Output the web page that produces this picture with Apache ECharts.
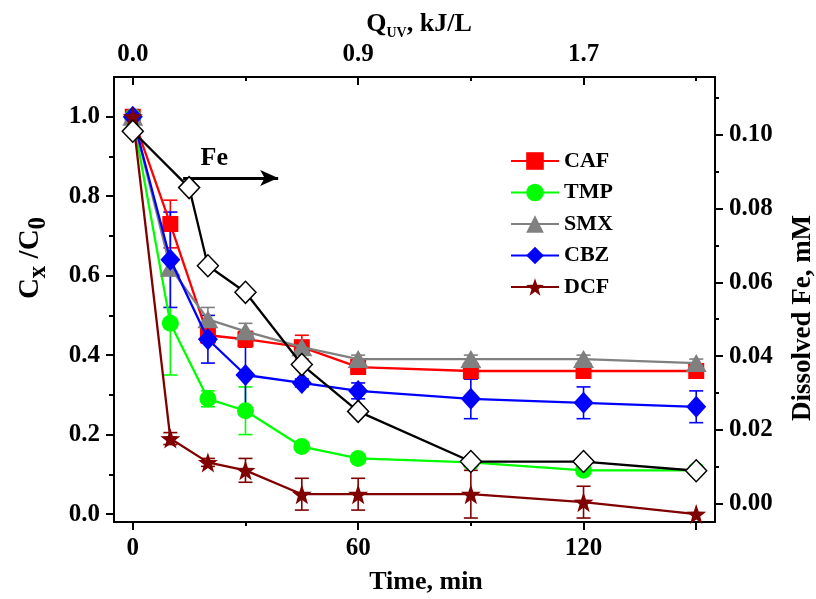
<!DOCTYPE html>
<html>
<head>
<meta charset="utf-8">
<script src="https://cdn.jsdelivr.net/npm/echarts@6/dist/echarts.min.js"></script>
<style>html,body{margin:0;padding:0;background:#fff}#c{width:816px;height:599px}</style>
</head>
<body>
<div id="c"></div>
<script>
// ---- data ----
const time = [0, 10, 20, 30, 45, 60, 90, 120, 150];
const CAF = [1.0, 0.73, 0.45, 0.44, 0.42, 0.37, 0.36, 0.36, 0.36];
const CAF_err = [0.01, 0.06, 0.02, 0.02, 0.03, 0.01, 0.02, 0.01, 0.01];
const TMP = [1.0, 0.48, 0.29, 0.26, 0.17, 0.14, 0.13, 0.11, 0.11];
const TMP_err = [0.01, 0.13, 0.02, 0.06, 0.01, 0.01, 0.01, 0.01, 0.01];
const SMX = [1.0, 0.62, 0.49, 0.46, 0.42, 0.39, 0.39, 0.39, 0.38];
const SMX_err = [0.01, 0.02, 0.03, 0.02, 0.01, 0.01, 0.01, 0.01, 0.01];
const CBZ = [1.0, 0.64, 0.44, 0.35, 0.33, 0.31, 0.29, 0.28, 0.27];
const CBZ_err = [0.01, 0.12, 0.06, 0.10, 0.01, 0.02, 0.05, 0.04, 0.04];
const DCF = [1.0, 0.19, 0.13, 0.11, 0.05, 0.05, 0.05, 0.03, 0.0];
const DCF_err = [0.01, 0.015, 0.01, 0.03, 0.04, 0.04, 0.06, 0.04, 0.0];
const feTime = [0, 15, 20, 30, 45, 60, 90, 120, 150];
const fe = [0.101, 0.0857, 0.0645, 0.0573, 0.0377, 0.025, 0.0114, 0.0114, 0.0089];

const timeTicks = [0, 60, 120];
const timeMajorTicks = [0, 60, 120, 150];
const timeMinorTicks = [30, 90];
const topMinorTicks = [30, 90, 150];
const qTickLabels = ['0.0', '0.9', '1.7'];
const leftTicks = [0, 0.2, 0.4, 0.6, 0.8, 1.0];
const leftMinor = [0.1, 0.3, 0.5, 0.7, 0.9];
const rightTicks = [0, 0.02, 0.04, 0.06, 0.08, 0.10];
const rightMinor = [0.01, 0.03, 0.05, 0.07, 0.09, 0.11];
// Fe annotation arrow (data coords, right axis)
const feArrowX = [13.4, 38.7];
const feArrowY = 0.0883;
const feLabelPos = [21.7, 0.0937];

// ---- styling ----
const FONT = 'Liberation Serif';
const lab = {color: '#000', fontFamily: FONT, fontWeight: 'bold', fontSize: 25};
const STAR = 'path://M50 0 L61.76 33.82 L97.55 34.55 L69.02 56.18 L79.39 90.45 L50 70 L20.61 90.45 L30.98 56.18 L2.45 34.55 L38.24 33.82 Z';

const compounds = [
  {name: 'CAF', v: CAF, e: CAF_err, color: '#ff0000', symbol: 'rect', size: 16},
  {name: 'TMP', v: TMP, e: TMP_err, color: '#00ff00', symbol: 'circle', size: 17},
  {name: 'SMX', v: SMX, e: SMX_err, color: '#808080', symbol: 'triangle', size: [21, 18]},
  {name: 'CBZ', v: CBZ, e: CBZ_err, color: '#0000ff', symbol: 'diamond', size: [20, 22]},
  {name: 'DCF', v: DCF, e: DCF_err, color: '#800000', symbol: STAR, size: 20}
];

function errRender(color, cap) {
  return function (params, api) {
    const x = api.value(0), lo = api.value(1), hi = api.value(2);
    const p1 = api.coord([x, hi]), p2 = api.coord([x, lo]);
    const s = {stroke: color, lineWidth: 1.6};
    return {type: 'group', children: [
      {type: 'line', shape: {x1: p1[0], y1: p1[1], x2: p2[0], y2: p2[1]}, style: s},
      {type: 'line', shape: {x1: p1[0] - cap, y1: p1[1], x2: p1[0] + cap, y2: p1[1]}, style: s},
      {type: 'line', shape: {x1: p2[0] - cap, y1: p2[1], x2: p2[0] + cap, y2: p2[1]}, style: s}
    ]};
  };
}

const series = [];
compounds.forEach(function (c) {
  series.push({
    type: 'custom', name: c.name + ' err', coordinateSystem: 'cartesian2d',
    xAxisIndex: 0, yAxisIndex: 0, clip: true, z: 1, silent: true,
    renderItem: errRender(c.color, 7),
    encode: {x: 0, y: [1, 2]},
    data: time.map(function (t, i) { return [t, c.v[i] - c.e[i], c.v[i] + c.e[i]]; }).filter(function (d, i) { return c.e[i] > 0; })
  });
});
compounds.forEach(function (c, k) {
  series.push({
    type: 'line', name: c.name, xAxisIndex: 0, yAxisIndex: 0,
    data: time.map(function (t, i) { return [t, c.v[i]]; }),
    symbol: c.symbol, symbolSize: c.size, showAllSymbol: true,
    lineStyle: {color: c.color, width: 2.3}, itemStyle: {color: c.color},
    z: 3 + k
  });
});
series.push({
  type: 'line', name: 'Fe', xAxisIndex: 0, yAxisIndex: 1,
  data: feTime.map(function (t, i) { return [t, fe[i]]; }),
  symbol: 'diamond', symbolSize: [21, 22],
  lineStyle: {color: '#000', width: 2.3},
  itemStyle: {color: '#fff', borderColor: '#000', borderWidth: 1.5},
  z: 10,
  markLine: {
    silent: true, symbol: ['none', 'arrow'], symbolSize: [12, 18],
    lineStyle: {color: '#000', width: 3, type: 'solid'},
    label: {show: false},
    data: [[{coord: [feArrowX[0], feArrowY]}, {coord: [feArrowX[1], feArrowY]}]]
  },
  markPoint: {
    silent: true, symbol: 'circle', symbolSize: 1, itemStyle: {color: 'rgba(0,0,0,0)'},
    label: {show: true, position: 'inside', formatter: 'Fe', color: '#000', fontFamily: FONT, fontWeight: 'bold', fontSize: 26},
    data: [{coord: feLabelPos}]
  }
});

function xAx(pos, opts) {
  return Object.assign({
    type: 'value', position: pos, min: -5, max: 155, gridIndex: 0,
    axisLine: {show: true, onZero: false, lineStyle: {color: '#000', width: 2}},
    splitLine: {show: false}
  }, opts);
}
function yAx(pos, min, max, opts) {
  return Object.assign({
    type: 'value', position: pos, min: min, max: max, gridIndex: 0,
    axisLine: {show: true, onZero: false, lineStyle: {color: '#000', width: 2}},
    splitLine: {show: false}
  }, opts);
}

const option = {
  animation: false,
  backgroundColor: '#fff',
  grid: {left: 114, right: 101, top: 77, bottom: 77},
  legend: {
    data: compounds.map(function (c) { return c.name; }),
    orient: 'vertical', left: 505, top: 145, itemWidth: 48, itemHeight: 22, itemGap: 9.5,
    textStyle: {color: '#000', fontFamily: FONT, fontWeight: 'bold', fontSize: 22, lineHeight: 22}
  },
  xAxis: [
    xAx('bottom', {
      axisTick: {show: true, inside: false, length: 8, customValues: timeMajorTicks, lineStyle: {color: '#000', width: 2}},
      axisLabel: Object.assign({show: true, margin: 14, customValues: timeTicks}, lab)
    }),
    xAx('top', {
      axisTick: {show: true, inside: true, length: 8, customValues: timeTicks, lineStyle: {color: '#000', width: 2}},
      axisLabel: Object.assign({show: true, margin: 10, customValues: timeTicks,
        formatter: function (v) { return qTickLabels[timeTicks.indexOf(v)]; }}, lab)
    }),
    xAx('bottom', {
      axisLine: {show: false, onZero: false},
      axisTick: {show: true, inside: false, length: 4, customValues: timeMinorTicks, lineStyle: {color: '#000', width: 2}},
      axisLabel: {show: false}
    }),
    xAx('top', {
      axisLine: {show: false, onZero: false},
      axisTick: {show: true, inside: true, length: 4, customValues: topMinorTicks, lineStyle: {color: '#000', width: 2}},
      axisLabel: {show: false}
    })
  ],
  yAxis: [
    yAx('left', -0.02, 1.1, {
      axisTick: {show: true, inside: false, length: 8, customValues: leftTicks, lineStyle: {color: '#000', width: 2}},
      axisLabel: Object.assign({show: true, margin: 14, customValues: leftTicks,
        formatter: function (v) { return v.toFixed(1); }}, lab)
    }),
    yAx('right', -0.005, 0.1157, {
      axisTick: {show: true, inside: false, length: 8, customValues: rightTicks, lineStyle: {color: '#000', width: 2}},
      axisLabel: Object.assign({show: true, margin: 14, customValues: rightTicks,
        formatter: function (v) { return v.toFixed(2); }}, lab)
    }),
    yAx('left', -0.02, 1.1, {
      axisLine: {show: false, onZero: false},
      axisTick: {show: true, inside: false, length: 5, customValues: leftMinor, lineStyle: {color: '#000', width: 2}},
      axisLabel: {show: false}
    }),
    yAx('right', -0.005, 0.1157, {
      axisLine: {show: false, onZero: false},
      axisTick: {show: true, inside: false, length: 4, customValues: rightMinor, lineStyle: {color: '#000', width: 2}},
      axisLabel: {show: false}
    })
  ],
  graphic: [
    {type: 'text', x: 426, y: 582, silent: true,
     style: {text: 'Time, min', fill: '#000', font: 'bold 26px "Liberation Serif"', align: 'center', verticalAlign: 'middle'}},
    {type: 'text', x: 803, y: 318, rotation: Math.PI / 2, silent: true,
     style: {text: 'Dissolved Fe, mM', fill: '#000', font: 'bold 27px "Liberation Serif"', align: 'center', verticalAlign: 'middle'}},
    {type: 'text', x: 31, y: 258, rotation: Math.PI / 2, silent: true,
     style: {text: '{a|C}{s|x}{a| /C}{s|0}', fill: '#000', align: 'center', verticalAlign: 'middle',
       rich: {
         a: {fontFamily: FONT, fontWeight: 'bold', fontSize: 29, fill: '#000'},
         s: {fontFamily: FONT, fontWeight: 'bold', fontSize: 25, fill: '#000', padding: [16, 0, 0, 0]}
       }}},
    {type: 'text', x: 419, y: 24, silent: true,
     style: {text: '{a|Q}{s|UV}{a|, kJ/L}', fill: '#000', align: 'center', verticalAlign: 'middle',
       rich: {
         a: {fontFamily: FONT, fontWeight: 'bold', fontSize: 26, fill: '#000'},
         s: {fontFamily: FONT, fontWeight: 'bold', fontSize: 14, fill: '#000', padding: [18, 0, 0, 0]}
       }}}
  ],
  series: series
};

const chart = echarts.init(document.getElementById('c'), null, {renderer: 'canvas'});
chart.setOption(option);
</script>
</body>
</html>
